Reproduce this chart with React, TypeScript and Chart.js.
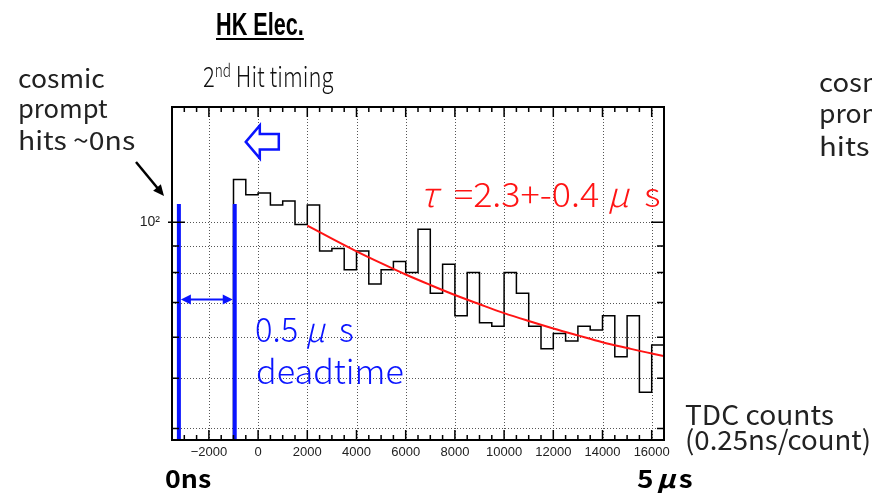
import React, { useEffect, useLayoutEffect, useRef } from 'react';
import { Chart, registerables } from 'chart.js';

Chart.register(...registerables);

// ---------- data ----------
const binEdges = [
  -1000, -500, 0, 500, 1000, 1500, 2000, 2500, 3000, 3500, 4000, 4500, 5000, 5500, 6000, 6500, 7000, 7500,
  8000, 8500, 9000, 9500, 10000, 10500, 11000, 11500, 12000, 12500, 13000, 13500, 14000, 14500, 15000, 15500,
  16000, 16500,
];
const binCounts = [
  121, 113, 114, 108, 110, 99, 108, 88, 89, 81, 88, 76, 81, 84, 80, 97, 73, 83, 66, 80, 64, 63, 80, 73, 63,
  57, 61, 59, 63, 62, 66, 55, 66, 47, 58,
];
const fitX = [2000, 3000, 4000, 5000, 6000, 7000, 8000, 9000, 10000, 11000, 12000, 13000, 14000, 15000, 16000, 16500];
const fitY = [98.6, 93.0, 87.9, 83.4, 79.3, 75.7, 72.4, 69.5, 66.8, 64.5, 62.4, 60.5, 58.7, 57.2, 55.8, 55.2];

const xTickValues = [-2000, 0, 2000, 4000, 6000, 8000, 10000, 12000, 14000, 16000];
const xMinorStep = 500;
const yTickValues = [40, 50, 60, 70, 80, 90, 100];
const yLabelled = [100];
const xMin = -3500;
const xMax = 16500;
const yMin = 38;
const yMax = 167;

// annotation anchors (data units)
const deadtimeLines = [-3220, -950];
const deadtimeTop = 108.5;
const deadtimeArrowY = 71;
const hollowArrowTip = { x: -500, y: 143 };

const BLUE = '#0a14ff';
const RED = '#ff1414';

function fmtX(v: number) {
  return v < 0 ? '\u2212' + Math.abs(v) : String(v);
}

const decorPlugin = {
  id: 'decor',
  beforeDatasetsDraw(chart: any) {
    const { ctx, chartArea: a, scales } = chart;
    const x = scales.x, y = scales.y;
    ctx.save();
    ctx.strokeStyle = '#555';
    ctx.lineWidth = 1;
    ctx.setLineDash([1, 2]);
    for (const v of xTickValues) {
      const px = Math.round(x.getPixelForValue(v)) + 0.5;
      ctx.beginPath();
      ctx.moveTo(px, a.top);
      ctx.lineTo(px, a.bottom);
      ctx.stroke();
    }
    for (const v of yTickValues) {
      const py = Math.round(y.getPixelForValue(v)) + 0.5;
      ctx.beginPath();
      ctx.moveTo(a.left, py);
      ctx.lineTo(a.right, py);
      ctx.stroke();
    }
    ctx.restore();
  },
  afterDatasetsDraw(chart: any) {
    const { ctx, chartArea: a, scales } = chart;
    const x = scales.x, y = scales.y;
    ctx.save();
    // deadtime blue lines
    ctx.strokeStyle = BLUE;
    ctx.fillStyle = BLUE;
    ctx.lineWidth = 4;
    const xs = deadtimeLines.map((v) => x.getPixelForValue(v));
    const yTop = y.getPixelForValue(deadtimeTop);
    for (const px of xs) {
      ctx.beginPath();
      ctx.moveTo(px, yTop);
      ctx.lineTo(px, a.bottom);
      ctx.stroke();
    }
    // double arrow
    const ay = y.getPixelForValue(deadtimeArrowY);
    const x1 = xs[0] + 2, x2 = xs[1] - 2;
    ctx.lineWidth = 2;
    ctx.beginPath();
    ctx.moveTo(x1 + 6, ay);
    ctx.lineTo(x2 - 6, ay);
    ctx.stroke();
    ctx.beginPath();
    ctx.moveTo(x1, ay);
    ctx.lineTo(x1 + 10, ay - 5);
    ctx.lineTo(x1 + 10, ay + 5);
    ctx.closePath();
    ctx.fill();
    ctx.beginPath();
    ctx.moveTo(x2, ay);
    ctx.lineTo(x2 - 10, ay - 5);
    ctx.lineTo(x2 - 10, ay + 5);
    ctx.closePath();
    ctx.fill();
    // hollow arrow
    const tx = x.getPixelForValue(hollowArrowTip.x);
    const ty = y.getPixelForValue(hollowArrowTip.y);
    const pts = [
      [0, 0], [14, -16.5], [14, -8], [33, -8], [33, 7.7], [14, 7.7], [14, 16.5],
    ];
    ctx.beginPath();
    pts.forEach(([dx, dy], i) => (i ? ctx.lineTo(tx + dx, ty + dy) : ctx.moveTo(tx + dx, ty + dy)));
    ctx.closePath();
    ctx.fillStyle = '#fff';
    ctx.fill();
    ctx.lineWidth = 2.5;
    ctx.strokeStyle = BLUE;
    ctx.lineJoin = 'miter';
    ctx.stroke();

    // frame
    ctx.strokeStyle = '#000';
    ctx.lineWidth = 2;
    ctx.strokeRect(a.left, a.top, a.right - a.left, a.bottom - a.top);
    // x ticks
    ctx.lineWidth = 1.5;
    for (let v = xMin; v <= xMax; v += xMinorStep) {
      const px = x.getPixelForValue(v);
      const major = xTickValues.includes(v);
      const len = major ? 10 : 5;
      ctx.beginPath();
      ctx.moveTo(px, a.bottom);
      ctx.lineTo(px, a.bottom - len);
      ctx.moveTo(px, a.top);
      ctx.lineTo(px, a.top + len);
      ctx.stroke();
    }
    for (const v of yTickValues) {
      const py = y.getPixelForValue(v);
      const major = yLabelled.includes(v);
      const len = major ? 13 : 7;
      ctx.beginPath();
      ctx.moveTo(a.left - (major ? 4 : 0), py);
      ctx.lineTo(a.left + len, py);
      ctx.moveTo(a.right, py);
      ctx.lineTo(a.right - len, py);
      ctx.stroke();
    }
    // black pointer arrow (outside plot)
    ctx.strokeStyle = '#000';
    ctx.fillStyle = '#000';
    ctx.lineWidth = 2.5;
    const sx = 136, sy = 162, ex = 164, ey = 196;
    const ang = Math.atan2(ey - sy, ex - sx);
    ctx.beginPath();
    ctx.moveTo(sx, sy);
    ctx.lineTo(ex - 8 * Math.cos(ang), ey - 8 * Math.sin(ang));
    ctx.stroke();
    ctx.beginPath();
    ctx.moveTo(ex, ey);
    ctx.lineTo(ex - 11 * Math.cos(ang) + 5 * Math.sin(ang), ey - 11 * Math.sin(ang) - 5 * Math.cos(ang));
    ctx.lineTo(ex - 11 * Math.cos(ang) - 5 * Math.sin(ang), ey - 11 * Math.sin(ang) + 5 * Math.cos(ang));
    ctx.closePath();
    ctx.fill();
    ctx.restore();
  },
};

type FTProps = {
  x: number;
  w: number;
  base: number;
  size: number;
  family: string;
  weight?: number | string;
  color?: string;
  style?: React.CSSProperties;
  children: React.ReactNode;
};

function FitText({ x, w, base, size, family, weight = 400, color = '#111', style, children }: FTProps) {
  const ref = useRef<HTMLDivElement>(null);
  const mref = useRef<HTMLSpanElement>(null);
  useLayoutEffect(() => {
    const fit = () => {
      const el = ref.current, m = mref.current;
      if (!el || !m) return;
      el.style.transform = 'none';
      const nat = el.offsetWidth;
      const bl = m.offsetTop;
      el.style.top = base - bl + 'px';
      el.style.transform = `scaleX(${w / nat})`;
    };
    fit();
    const f: any = (document as any).fonts;
    if (f && f.ready) f.ready.then(fit);
  }, []);
  return (
    <div
      ref={ref}
      style={{
        position: 'absolute',
        left: x,
        top: 0,
        whiteSpace: 'nowrap',
        fontFamily: family,
        fontSize: size,
        fontWeight: weight as any,
        color,
        lineHeight: 1.3,
        transformOrigin: '0 0',
        ...style,
      }}
    >
      {children}
      <span ref={mref} style={{ display: 'inline-block', width: 0, height: 0, verticalAlign: 'baseline' }} />
    </div>
  );
}

function Mu({ w = 1.05 }: { w?: number }) {
  return (
    <span style={{ display: 'inline-block', width: w + 'em', textAlign: 'center', fontStyle: 'italic' }}>μ</span>
  );
}

const JP = '"Noto Sans CJK JP", "Noto Sans", sans-serif';
const NARROW = '"Liberation Sans Narrow", "Liberation Sans", Arial, sans-serif';

export default function App() {
  const canvasRef = useRef<HTMLCanvasElement>(null);
  useEffect(() => {
    const histData: { x: number; y: number }[] = [{ x: binEdges[0], y: yMin }];
    binCounts.forEach((c, i) => histData.push({ x: binEdges[i], y: c }));
    histData.push({ x: binEdges[binEdges.length - 1], y: binCounts[binCounts.length - 1] });
    const fitData = fitX.map((v, i) => ({ x: v, y: fitY[i] }));
    const chart = new Chart(canvasRef.current as HTMLCanvasElement, {
      type: 'line',
      data: {
        datasets: [
          {
            label: 'fit',
            data: fitData,
            borderColor: RED,
            borderWidth: 2,
            pointRadius: 0,
            cubicInterpolationMode: 'monotone',
            fill: false,
          } as any,
          {
            label: 'hist',
            data: histData,
            borderColor: '#000',
            borderWidth: 1.5,
            pointRadius: 0,
            stepped: 'before',
            fill: false,
          } as any,
        ],
      },
      options: {
        responsive: false,
        animation: false,
        devicePixelRatio: 1,
        parsing: false as any,
        layout: { padding: { left: 0, right: 208, top: 107, bottom: 0 } },
        plugins: { legend: { display: false }, tooltip: { enabled: false }, title: { display: false } },
        scales: {
          x: {
            type: 'linear',
            min: xMin,
            max: xMax,
            grid: { display: false, drawTicks: false },
            border: { display: false },
            afterBuildTicks: (s: any) => {
              s.ticks = xTickValues.map((v) => ({ value: v }));
            },
            afterFit: (s: any) => {
              s.height = 53;
            },
            ticks: {
              autoSkip: false,
              maxRotation: 0,
              padding: 5,
              color: '#222',
              font: { family: NARROW, size: 13 },
              callback: (v: any) => fmtX(Number(v)),
            },
          },
          y: {
            type: 'logarithmic',
            min: yMin,
            max: yMax,
            grid: { display: false, drawTicks: false },
            border: { display: false },
            afterBuildTicks: (s: any) => {
              s.ticks = yTickValues.map((v) => ({ value: v }));
            },
            afterFit: (s: any) => {
              s.width = 172;
            },
            ticks: {
              autoSkip: false,
              padding: 12,
              color: '#222',
              font: { family: '"Liberation Sans", Arial, sans-serif', size: 14 },
              callback: (v: any) => (yLabelled.includes(Number(v)) ? '10\u00b2' : ''),
            },
          },
        },
      } as any,
      plugins: [decorPlugin],
    });
    return () => chart.destroy();
  }, []);

  return (
    <div style={{ position: 'absolute', left: 0, top: 0, width: 872, height: 493, overflow: 'hidden', background: '#fff' }}>
      <canvas ref={canvasRef} width={872} height={493} style={{ position: 'absolute', left: 0, top: 0, display: 'block' }} />
      <FitText x={216} w={88} base={35} size={31} family={NARROW} weight={700} color="#000"
        style={{ textDecoration: 'underline', textDecorationThickness: '2px', textUnderlineOffset: '3px' }}>
        HK Elec.
      </FitText>
      <FitText x={203} w={130} base={87} size={28} family={JP} weight={300} color="#111">
        2<sup style={{ fontSize: '0.62em', verticalAlign: '0.55em', lineHeight: 0 }}>nd</sup> Hit timing
      </FitText>
      <FitText x={18} w={87} base={88} size={25} family={JP} color="#222">cosmic</FitText>
      <FitText x={18} w={90} base={118} size={25} family={JP} color="#222">prompt</FitText>
      <FitText x={18} w={117} base={150} size={25} family={JP} color="#222">hits ~0ns</FitText>
      <FitText x={819} w={90} base={92} size={26} family={JP} color="#222">cosmic</FitText>
      <FitText x={819} w={93} base={123} size={26} family={JP} color="#222">prompt</FitText>
      <FitText x={819} w={121} base={156} size={26} family={JP} color="#222">hits ~0ns</FitText>
      <FitText x={420} w={240} base={207} size={34} family={JP} weight={300} color={RED}>
        <i>τ</i>
        <span style={{ marginLeft: '0.45em' }}>=2.3+-0.4</span>
        <Mu />
        <span style={{ marginLeft: '0.2em' }}>s</span>
      </FitText>
      <FitText x={255} w={99} base={342} size={34} family={JP} weight={300} color={BLUE}>
        0.5<Mu />
        <span style={{ marginLeft: '0.2em' }}>s</span>
      </FitText>
      <FitText x={256} w={148} base={384} size={33} family={JP} weight={300} color={BLUE}>deadtime</FitText>
      <FitText x={685} w={149} base={425} size={27} family={JP} color="#222">TDC counts</FitText>
      <FitText x={685} w={186} base={450} size={27} family={JP} color="#222">(0.25ns/count)</FitText>
      <FitText x={165} w={46} base={488} size={25} family={JP} weight={700} color="#000">0ns</FitText>
      <FitText x={637} w={56} base={488} size={25} family={JP} weight={700} color="#000">
        5<Mu w={0.9} />s
      </FitText>
    </div>
  );
}
